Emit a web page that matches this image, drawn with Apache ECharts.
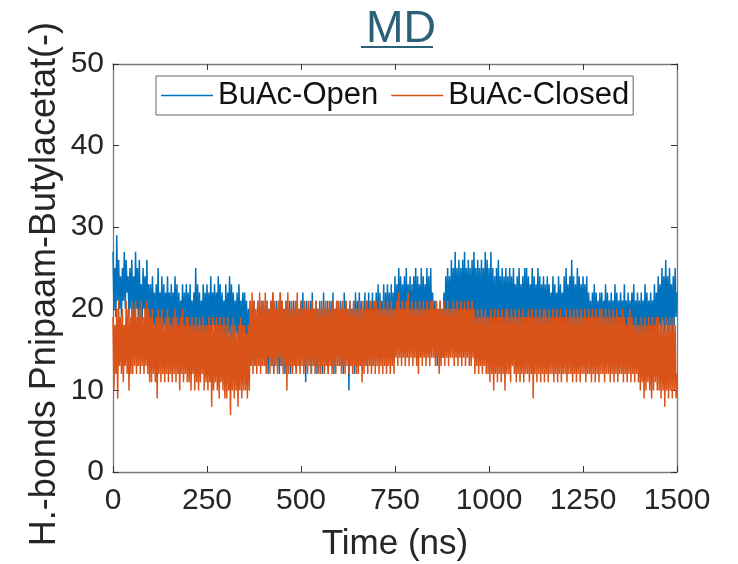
<!DOCTYPE html>
<html>
<head>
<meta charset="utf-8">
<script src="https://cdn.jsdelivr.net/npm/echarts@6/dist/echarts.min.js"></script>
<style>
html,body{margin:0;padding:0;background:#fff;}
#chart{width:738px;height:564px;}
</style>
</head>
<body>
<div id="chart"></div>
<script>
// ---- data ----
const titleText = 'MD';
const xAxisName = 'Time (ns)';
const yAxisName = 'H.-bonds Pnipaam-Butylacetat(-)';
const seriesNames = ['BuAc-Open', 'BuAc-Closed'];
const xTicks = [0, 250, 500, 750, 1000, 1250, 1500];
const yTicks = [0, 10, 20, 30, 40, 50];
const timeStepNs = 2.5; // sampling step of the arrays below (ns)

const buAcOpen = [
  27,20,25,19,29,21,26,20,24,19,25,21,27,20,26,22,24,19,25,20,
  26,19,24,18,27,20,25,18,26,19,23,18,25,20,24,18,26,19,23,18,
  23,17,24,18,22,17,23,18,25,17,22,18,24,17,23,18,22,17,24,18,
  22,17,23,16,22,18,24,17,23,16,22,17,21,18,23,17,22,16,23,17,
  22,16,23,17,21,16,22,17,25,16,23,17,22,16,21,17,23,16,22,17,
  23,17,22,16,24,17,22,18,23,16,22,17,24,17,23,16,22,17,21,16,
  23,16,22,17,24,16,23,17,22,16,21,17,22,16,23,17,21,16,22,17,
  22,16,21,15,20,14,21,13,20,14,21,13,19,14,21,13,20,14,21,13,
  21,14,20,13,21,12,20,14,21,13,22,12,20,14,21,13,20,12,22,13,
  21,13,20,12,21,14,20,13,21,12,20,14,21,13,20,12,21,14,20,13,
  21,14,22,13,20,11,21,14,20,13,21,12,22,14,20,13,21,12,20,14,
  21,13,20,12,22,14,20,13,21,12,20,14,21,13,22,12,20,14,21,13,
  20,14,21,13,20,12,22,13,21,14,20,10,21,13,20,14,21,12,22,13,
  21,14,22,13,21,15,20,14,22,13,21,15,22,14,21,13,22,15,21,14,
  22,15,23,14,22,16,21,15,23,14,22,16,23,15,22,14,23,16,22,15,
  24,17,23,16,25,17,24,16,23,17,24,16,25,17,23,16,24,17,23,16,
  24,17,25,16,24,18,23,17,25,16,24,17,23,18,25,17,24,16,25,17,
  22,15,21,14,21,13,20,14,21,15,20,14,22,15,24,17,25,18,24,17,
  26,18,25,17,27,18,25,17,26,18,25,17,26,18,27,17,25,18,26,17,
  25,18,26,17,27,18,25,17,26,18,25,17,26,18,25,17,27,18,26,17,
  25,18,27,17,25,18,24,17,25,18,26,17,24,18,25,17,24,18,25,17,
  24,17,25,18,24,17,25,18,23,17,24,18,25,17,23,18,24,17,25,18,
  25,18,24,17,23,18,25,17,24,18,23,17,25,18,24,17,23,18,24,17,
  23,17,24,18,23,16,22,17,24,18,23,17,22,16,24,17,23,18,22,17,
  24,17,25,18,23,17,24,18,26,17,24,18,23,17,25,18,24,17,23,18,
  24,18,23,17,24,16,22,17,21,16,22,17,23,16,22,17,21,16,22,17,
  22,16,21,17,23,16,22,17,21,16,22,17,21,16,23,17,22,16,21,17,
  22,17,21,16,23,17,21,16,22,17,21,16,22,17,23,16,21,17,22,16,
  21,16,22,17,21,16,23,17,22,16,21,17,22,16,21,17,23,16,22,17,
  24,18,23,17,25,18,24,17,26,18,24,17,25,18,23,17,24,18,25,19,
  22
];

const buAcClosed = [
  19,10,18,12,20,9,21,13,19,12,20,11,18,13,21,12,20,10,19,12,
  21,12,20,13,21,12,19,13,20,12,21,13,19,12,20,13,21,12,20,11,
  19,11,20,12,18,11,19,9,20,12,19,11,20,12,18,11,19,12,20,11,
  19,12,18,11,19,12,20,11,19,12,18,10,19,12,20,11,18,12,19,11,
  19,11,18,10,19,12,18,10,19,11,18,10,19,11,18,12,19,10,18,11,
  18,10,19,11,18,8,19,10,18,11,19,10,18,9,19,11,18,10,19,9,
  18,9,19,10,17,7,18,10,19,9,18,10,17,8,18,10,19,9,18,10,
  18,10,17,9,18,10,21,13,22,12,21,13,20,12,21,13,22,12,21,13,
  21,13,22,12,21,14,20,12,21,13,22,12,21,13,20,12,21,14,22,13,
  21,12,20,13,21,10,22,12,20,13,21,12,20,13,21,12,22,13,20,12,
  21,13,20,12,21,13,20,12,21,13,20,12,21,13,20,12,21,13,20,12,
  20,12,21,13,20,12,21,13,20,12,21,13,20,12,21,13,20,12,21,13,
  21,13,20,12,21,13,20,12,21,13,20,12,21,13,20,12,21,13,20,12,
  20,12,21,13,20,11,21,12,20,13,21,12,20,13,21,12,20,13,21,12,
  21,13,20,12,21,13,20,12,21,13,20,12,21,13,20,12,21,13,20,12,
  20,14,21,13,22,14,20,13,21,14,20,13,21,14,22,13,20,14,21,13,
  20,14,21,13,20,12,21,14,20,13,21,14,20,13,21,14,20,13,21,14,
  21,14,20,13,21,14,20,12,21,13,20,14,21,13,20,14,21,13,20,14,
  20,14,21,13,20,14,21,13,20,14,21,13,20,14,21,13,20,14,21,13,
  20,13,21,14,20,12,19,13,20,12,19,13,20,12,19,13,20,12,19,12,
  19,11,20,12,19,10,20,12,19,11,20,12,19,11,20,12,19,10,20,12,
  20,12,19,11,20,13,19,12,20,11,19,12,20,11,19,12,20,11,19,12,
  19,12,20,11,19,12,20,9,19,12,20,11,19,12,20,11,19,12,20,11,
  20,12,19,11,20,12,19,12,20,11,19,12,20,11,19,12,20,11,19,12,
  19,12,20,11,19,12,20,12,19,11,20,12,19,11,20,12,19,11,20,12,
  19,12,20,11,19,12,20,12,19,11,20,12,19,11,20,12,19,11,20,12,
  20,12,19,11,20,12,19,12,20,11,19,12,20,11,19,12,20,11,19,12,
  19,12,20,11,19,12,18,11,19,12,20,11,19,12,18,11,19,12,18,11,
  18,10,19,11,18,9,19,10,18,11,19,10,18,9,19,10,18,11,19,10,
  19,10,18,9,19,10,18,8,19,10,18,9,19,10,18,9,19,10,18,9,
  12
];

// ---- chart ----
const toPairs = arr => arr.map((v, i) => [i * timeStepNs, v]);
const FONT = '"Liberation Sans", Arial, Helvetica, sans-serif';
const TXT = '#262626';
const AX = '#7a7a7a';
const titleColor = '#2b6176';
const BLUE = '#0072BD';
const ORANGE = '#D95319';

const chart = echarts.init(document.getElementById('chart'), null, {renderer: 'canvas'});

const baseX = {
  type: 'value', min: xTicks[0], max: xTicks[xTicks.length - 1], interval: xTicks[1] - xTicks[0],
  splitLine: {show: false},
  axisLine: {show: true, onZero: false, lineStyle: {color: AX, width: 1.3}},
  axisTick: {show: true, inside: true, length: 6, lineStyle: {color: '#333', width: 1}}
};
const baseY = {
  type: 'value', min: yTicks[0], max: yTicks[yTicks.length - 1], interval: yTicks[1] - yTicks[0],
  splitLine: {show: false},
  axisLine: {show: true, onZero: false, lineStyle: {color: AX, width: 1.3}},
  axisTick: {show: true, inside: true, length: 6, lineStyle: {color: '#333', width: 1}}
};

chart.setOption({
  animation: false,
  backgroundColor: '#fff',
  title: {
    text: titleText, left: 361, top: 2,
    textStyle: {fontFamily: FONT, fontSize: 45, fontWeight: 'normal', color: titleColor}
  },
  legend: {
    data: [
      {name: seriesNames[0], icon: 'rect', itemStyle: {color: BLUE}},
      {name: seriesNames[1], icon: 'rect', itemStyle: {color: ORANGE}}
    ],
    left: 156, top: 76,
    orient: 'horizontal',
    padding: [4, 4, 4, 5],
    itemWidth: 52, itemHeight: 1.5, itemGap: 13,
    borderColor: '#666', borderWidth: 1,
    backgroundColor: '#fff',
    textStyle: {fontFamily: FONT, fontSize: 31, color: '#111'}
  },
  grid: {left: 113, right: 61, top: 64, bottom: 92, containLabel: false, outerBoundsMode: 'none'},
  xAxis: [
    Object.assign({}, baseX, {
      position: 'bottom',
      name: xAxisName, nameLocation: 'middle', nameGap: 55,
      nameTextStyle: {fontFamily: FONT, fontSize: 35, color: TXT},
      axisLabel: {fontFamily: FONT, fontSize: 30, color: TXT, margin: 14, formatter: v => String(v)}
    }),
    Object.assign({}, baseX, {position: 'top', axisLabel: {show: false}})
  ],
  yAxis: [
    Object.assign({}, baseY, {
      position: 'left',
      axisLabel: {fontFamily: FONT, fontSize: 30, color: TXT, margin: 9, formatter: v => String(v)}
    }),
    Object.assign({}, baseY, {position: 'right', axisLabel: {show: false}})
  ],
  graphic: [
    {
      type: 'text', left: 27, top: 22, rotation: Math.PI / 2,
      style: {text: yAxisName, fontFamily: FONT, fontSize: 36, fill: TXT}
    },
    {
      type: 'line', shape: {x1: 361, y1: 47, x2: 433, y2: 47},
      style: {stroke: titleColor, lineWidth: 2}
    }
  ],
  series: [
    {
      name: seriesNames[0], type: 'line', symbol: 'none', showSymbol: false,
      data: toPairs(buAcOpen), xAxisIndex: 0, yAxisIndex: 0,
      lineStyle: {color: BLUE, width: 1.5}, itemStyle: {color: BLUE},
      z: 2
    },
    {
      name: seriesNames[1], type: 'line', symbol: 'none', showSymbol: false,
      data: toPairs(buAcClosed), xAxisIndex: 0, yAxisIndex: 0,
      lineStyle: {color: ORANGE, width: 1.5}, itemStyle: {color: ORANGE},
      z: 3
    }
  ]
});
</script>
</body>
</html>
